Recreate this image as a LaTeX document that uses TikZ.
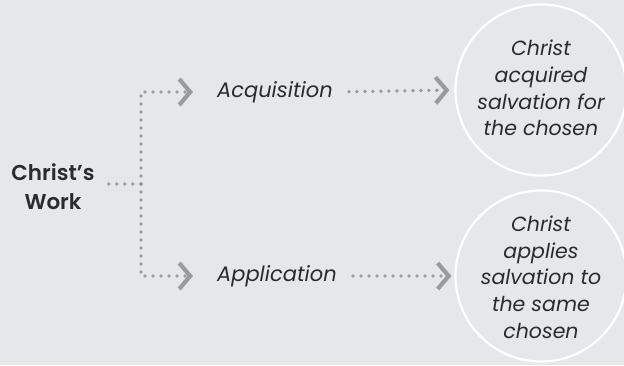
\documentclass[tikz,border=0pt]{standalone}
\usepackage{fontspec}
\setmainfont{Poppins}[BoldFont={Poppins SemiBold}]
\usetikzlibrary{arrows.meta}
\definecolor{bg}{HTML}{E6E7E8}
\definecolor{dotc}{HTML}{9B9B9B}
\definecolor{txt}{HTML}{2B2B2B}
\tikzset{
  dotline/.style={dotc, line width=3.8pt, line cap=round, dash pattern=on 0pt off 8pt},
  tip/.style={-{Straight Barb[length=11pt,width=26pt,line width=4.2pt]}},
  lbl/.style={text=txt, font=\fontsize{21}{24}\selectfont\itshape, inner sep=0pt},
  circ/.style={circle, draw=white, line width=2.2pt, minimum size=171pt, inner sep=0pt},
  ctext/.style={text=txt, font=\fontsize{20.5}{26.7}\selectfont\itshape, align=center, inner sep=0pt},
}
\begin{document}
\begin{tikzpicture}[x=1pt,y=-1pt]
\fill[bg] (0,0) rectangle (624,365);
\useasboundingbox (0,0) rectangle (624,365);
\node[text=txt, font=\fontsize{21.5}{29}\selectfont\bfseries, align=center, inner sep=0pt] (work) at (53,187) {Christ’s\\Work};
\node[lbl, anchor=west] (acq) at (217,92) {Acquisition};
\node[lbl, anchor=west] (app) at (217,276) {Application};
\node[circ] (c1) at (541,90) {};
\node[circ] (c2) at (541,276) {};
\node[ctext] (t1) at (541,88) {Christ\\acquired\\salvation for\\the chosen};
\node[ctext] (t2) at (541,277) {Christ\\applies\\salvation to\\the same\\chosen};
\coordinate (j) at (141,184);
\draw[dotline, shorten <=14pt] (work.east |- j) -- (j);
\draw[dotline, tip, shorten >=24pt] (j) |- (acq.west);
\draw[dotline, tip, shorten >=24pt] (j) |- (app.west);
\draw[dotline, tip, shorten <=16pt, shorten >=5pt] (acq.east) -- (c1.west);
\draw[dotline, tip, shorten <=16pt, shorten >=3pt] (app.east) -- (c2.west);
\end{tikzpicture}
\end{document}
